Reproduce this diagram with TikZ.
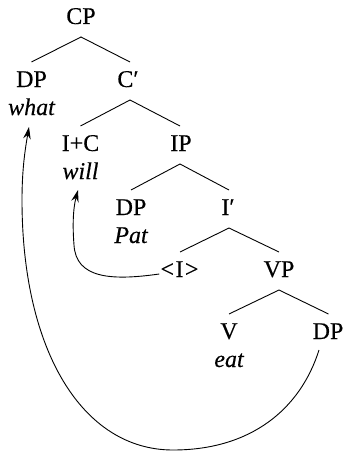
\documentclass[tikz,border=0pt]{standalone}
\usepackage{fontspec}
\setmainfont{Liberation Serif}[FakeBold=0.3]
\usetikzlibrary{arrows.meta}
\begin{document}
\begin{tikzpicture}[x=1pt,y=-1pt,
  cat/.style={font=\fontsize{24}{28}\selectfont, inner sep=0pt, anchor=base},
  word/.style={cat, font=\fontsize{24}{28}\selectfont\itshape},
  branch/.style={line width=0.9pt},
  move/.style={line width=0.9pt, -{Stealth[length=12pt,width=7.5pt,inset=4pt]}}]
\useasboundingbox (0,0) rectangle (344,452);

% category labels and the words below them
\node[cat]  (cp)     at (81,24)    {CP};
\node[cat]  (dp1)    at (31.5,87)  {DP};
\node[word] (what)   at (31.5,115) {what};
\node[cat]  (cbar)   at (128,87)   {C′};
\node[cat]  (ic)     at (80.5,151) {I+C};
\node[word] (will)   at (80.5,179) {will};
\node[cat]  (ip)     at (181,151)  {IP};
\node[cat]  (dp2)    at (131,215)  {DP};
\node[word] (pat)    at (131,243)  {Pat};
\node[cat]  (ibar)   at (228,215)  {I′};
\node[cat]  (itrace) at (179.5,277) {<\kern1.5pt I\kern1.5pt>};
\node[cat]  (vp)     at (279,277)  {VP};
\node[cat]  (v)      at (229,339)  {V};
\node[word] (eat)    at (229,367)  {eat};
\node[cat]  (dp3)    at (328,339)  {DP};

% branches: from below the mother to above each daughter
\draw[branch] ([yshift=25pt]dp1.base) -- ([yshift=-13pt]cp.base) -- ([xshift=2pt,yshift=25pt]cbar.base);
\draw[branch] ([yshift=25pt]ic.base) -- ([xshift=2pt,yshift=-13pt]cbar.base) -- ([xshift=-1pt,yshift=25pt]ip.base);
\draw[branch] ([yshift=25pt]dp2.base) -- ([xshift=-1pt,yshift=-13pt]ip.base) -- ([xshift=1pt,yshift=25pt]ibar.base);
\draw[branch] ([xshift=0.5pt,yshift=25pt]itrace.base) -- ([xshift=1pt,yshift=-13pt]ibar.base) -- ([yshift=25pt]vp.base);
\draw[branch] ([yshift=25pt]v.base) -- ([yshift=-13pt]vp.base) -- ([xshift=0.5pt,yshift=25pt]dp3.base);

% movement arrows
\draw[move] ([xshift=-9pt,yshift=-11pt]dp3.base)
  .. controls (300,410) and (250,450) .. (173,450)
  .. controls (82,450) and (22,350) .. (22,200)
  .. controls (22,170) and (25,150) .. ([xshift=-2.5pt,yshift=-12pt]what.base);
\draw[move] ([xshift=-1pt,yshift=3pt]itrace.base west)
  .. controls (110,281) and (76,278) .. (74,245)
  .. controls (72,220) and (74,205) .. ([xshift=-2.5pt,yshift=-11pt]will.base);
\end{tikzpicture}
\end{document}
